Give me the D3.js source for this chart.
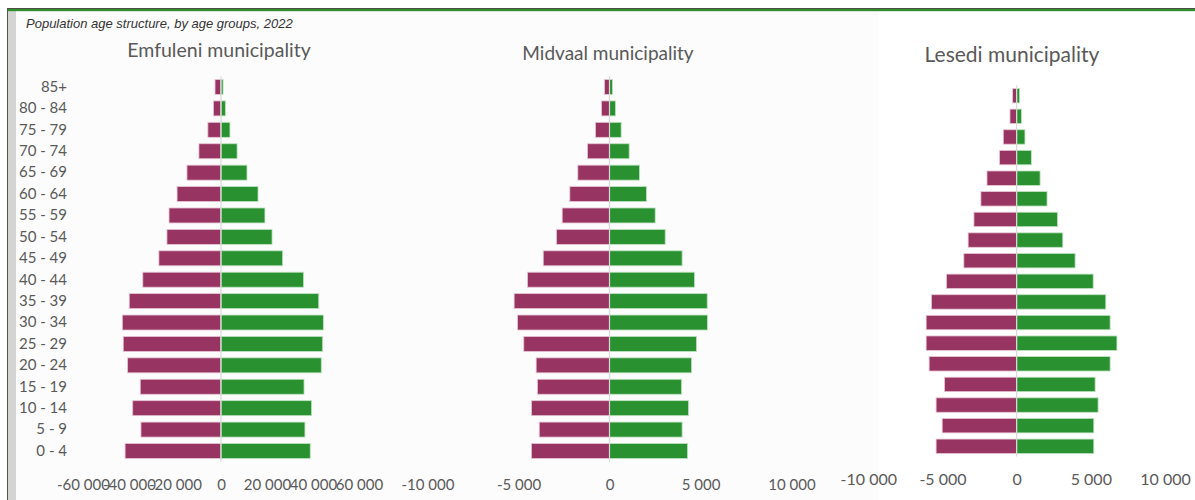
<!DOCTYPE html>
<html>
<head>
<meta charset="utf-8">
<script src="https://cdn.jsdelivr.net/npm/d3@7"></script>
<style>
  html, body { margin: 0; padding: 0; background: #ffffff; }
  svg { display: block; }
  .tick text { fill: #595959; }
</style>
</head>
<body>
<svg id="chart" width="1195" height="500"></svg>
<script>
// Age groups, youngest first
const ageGroups = ["0 - 4", "5 - 9", "10 - 14", "15 - 19", "20 - 24", "25 - 29", "30 - 34",
  "35 - 39", "40 - 44", "45 - 49", "50 - 54", "55 - 59", "60 - 64", "65 - 69",
  "70 - 74", "75 - 79", "80 - 84", "85+"];

// Population counts per age group (purple = female, left; green = male, right)
const emfuleniFemale = [41700, 34800, 38400, 35100, 40600, 42500, 42900, 39900, 34000, 27000,
  23500, 22600, 19100, 14800, 9600, 5700, 3300, 2600];
const emfuleniMale = [38800, 36500, 39400, 36100, 43600, 44200, 44500, 42500, 35900, 26800,
  22200, 19100, 16100, 11300, 7000, 3900, 1900, 900];

const midvaalFemale = [4290, 3860, 4290, 3960, 4030, 4710, 5050, 5240, 4500, 3640,
  2910, 2600, 2180, 1740, 1210, 770, 440, 275];
const midvaalMale = [4290, 3990, 4340, 3960, 4510, 4780, 5380, 5370, 4670, 3990,
  3060, 2510, 2030, 1650, 1080, 640, 330, 165];

const lesediFemale = [5430, 5020, 5430, 4860, 5900, 6100, 6100, 5740, 4730, 3560,
  3270, 2880, 2410, 2000, 1150, 900, 450, 270];
const lesediMale = [5200, 5200, 5490, 5290, 6300, 6760, 6300, 6010, 5160, 3940,
  3110, 2750, 2050, 1580, 990, 560, 320, 200];

// Axis tick values
const emfuleniTicks = [-60000, -40000, -20000, 0, 20000, 40000, 60000];
const smallTicks = [-10000, -5000, 0, 5000, 10000];

const titleText = "Population age structure, by age groups, 2022";

const panels = [
  { name: "Emfuleni municipality", female: emfuleniFemale, male: emfuleniMale,
    domain: [-60000, 60000], range: [83, 359], ticks: emfuleniTicks,
    bandRange: [76.3, 461.7], titleX: 219, titleY: 57, titleSize: 19.5,
    axisY: 476, tickSize: 15, yLabels: true },
  { name: "Midvaal municipality", female: midvaalFemale, male: midvaalMale,
    domain: [-10000, 10000], range: [427.5, 791.5], ticks: smallTicks,
    bandRange: [76.3, 461.7], titleX: 608, titleY: 60, titleSize: 19,
    axisY: 476, tickSize: 15, yLabels: false },
  { name: "Lesedi municipality", female: lesediFemale, male: lesediMale,
    domain: [-10000, 10000], range: [868.3, 1165], ticks: smallTicks,
    bandRange: [85.4, 456.6], titleX: 1012, titleY: 62, titleSize: 21,
    axisY: 471, tickSize: 16, yLabels: false }
];

const FEMALE_COLOR = "#983462";
const MALE_COLOR = "#2a9131";
const FONT = "Lato, 'Open Sans', sans-serif";

const svg = d3.select("#chart");

// Backgrounds and frame
svg.append("rect").attr("x", 0).attr("y", 0).attr("width", 1195).attr("height", 500).attr("fill", "#ffffff");
svg.append("rect").attr("x", 16).attr("y", 11).attr("width", 862).attr("height", 489).attr("fill", "#fcfcfc");
svg.append("rect").attr("x", 878).attr("y", 11).attr("width", 317).attr("height", 489).attr("fill", "#ffffff");
svg.append("rect").attr("x", 8).attr("y", 9).attr("width", 8).attr("height", 491).attr("fill", "#d4d4d4");
svg.append("rect").attr("x", 7).attr("y", 8).attr("width", 1188).attr("height", 1).attr("fill", "#4f4f42");
svg.append("rect").attr("x", 7).attr("y", 8).attr("width", 1).attr("height", 492).attr("fill", "#55554a");
svg.append("rect").attr("x", 8).attr("y", 9).attr("width", 1187).attr("height", 2.2).attr("fill", "#2f8f2f");

// Subtitle
svg.append("text")
  .attr("x", 26).attr("y", 28)
  .attr("font-family", "'Liberation Sans', Arial, sans-serif")
  .attr("font-style", "italic")
  .attr("font-size", 13)
  .attr("fill", "#333333")
  .text(titleText);

const locale = d3.formatLocale({ decimal: ".", thousands: " ", grouping: [3], currency: ["", ""], minus: "-" });
const fmt = locale.format(",d");

const rows = ageGroups.slice().reverse(); // 85+ on top

panels.forEach(p => {
  const x = d3.scaleLinear().domain(p.domain).range(p.range);
  const y = d3.scaleBand().domain(rows).range(p.bandRange).paddingInner(0.3).paddingOuter(0.15);
  const g = svg.append("g");

  // Panel title
  g.append("text")
    .attr("x", p.titleX).attr("y", p.titleY)
    .attr("text-anchor", "middle")
    .attr("font-family", FONT)
    .attr("font-size", p.titleSize)
    .attr("fill", "#595959")
    .text(p.name);

  const data = ageGroups.map((a, i) => ({ age: a, female: p.female[i], male: p.male[i] }));

  // Left bars
  g.selectAll("rect.f").data(data).join("rect")
    .attr("class", "f")
    .attr("x", d => x(-d.female))
    .attr("y", d => y(d.age))
    .attr("width", d => x(0) - x(-d.female))
    .attr("height", y.bandwidth())
    .attr("fill", FEMALE_COLOR)
    .attr("stroke", "#e8c6d4").attr("stroke-width", 0.8);

  // Right bars
  g.selectAll("rect.m").data(data).join("rect")
    .attr("class", "m")
    .attr("x", x(0))
    .attr("y", d => y(d.age))
    .attr("width", d => x(d.male) - x(0))
    .attr("height", y.bandwidth())
    .attr("fill", MALE_COLOR)
    .attr("stroke", "#bfe3c1").attr("stroke-width", 0.8);

  // Zero line
  g.append("line")
    .attr("x1", x(0)).attr("x2", x(0))
    .attr("y1", p.bandRange[0]).attr("y2", p.bandRange[1])
    .attr("stroke", "#d9d9d9").attr("stroke-width", 1.2);

  // Value axis
  const xa = g.append("g")
    .attr("transform", `translate(0,${p.axisY})`)
    .call(d3.axisBottom(x).tickValues(p.ticks).tickFormat(fmt).tickSize(0).tickPadding(3));
  xa.select(".domain").remove();
  xa.selectAll("text").attr("font-family", FONT).attr("font-size", p.tickSize).attr("fill", "#595959");

  // Age labels
  if (p.yLabels) {
    const ya = g.append("g")
      .attr("transform", "translate(70,0)")
      .call(d3.axisLeft(y).tickSize(0).tickPadding(3));
    ya.select(".domain").remove();
    ya.selectAll("text").attr("font-family", FONT).attr("font-size", 15).attr("fill", "#595959");
  }
});
</script>
</body>
</html>
